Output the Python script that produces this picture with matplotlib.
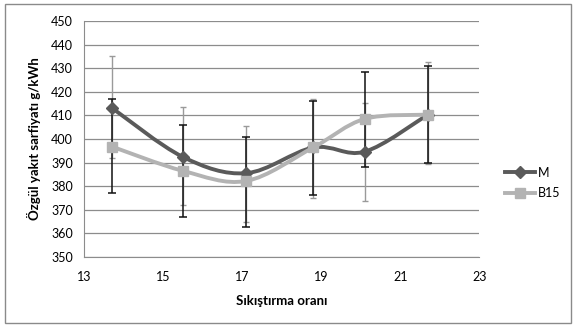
import numpy as np
import matplotlib
matplotlib.use('Agg')
import matplotlib.pyplot as plt
from matplotlib.path import Path
from matplotlib.patches import PathPatch, Rectangle
from matplotlib.lines import Line2D

plt.rcParams['font.family'] = ['Lato', 'DejaVu Sans']

# compression ratio values and specific fuel consumption
x_vals = [13.7, 15.5, 17.1, 18.8, 20.1, 21.7]
m_vals = [413.2, 392.4, 385.5, 396.4, 394.6, 410.3]
m_low = [377.0, 367.0, 362.8, 376.2, 388.0, 390.0]
m_high = [417.0, 406.0, 401.0, 416.0, 428.5, 431.0]
b15_vals = [396.8, 386.5, 382.2, 396.4, 408.5, 410.3]
b15_low = [392.0, 372.0, 365.0, 375.0, 373.7, 389.5]
b15_high = [435.0, 413.5, 405.5, 417.0, 415.3, 432.6]

yticks = [350, 360, 370, 380, 390, 400, 410, 420, 430, 440, 450]
xticks = [13, 15, 17, 19, 21, 23]

M_COLOR = '#5a5a5a'
B_COLOR = '#b3b3b3'


def smooth_path(xs, ys):
    # excel-like smoothed line: cubic bezier between points
    pts = np.column_stack([xs, ys])
    n = len(pts)
    verts = [pts[0]]
    codes = [Path.MOVETO]
    for i in range(n - 1):
        p0 = pts[i - 1] if i > 0 else pts[i]
        p1 = pts[i]
        p2 = pts[i + 1]
        p3 = pts[i + 2] if i + 2 < n else pts[i + 1]
        c1 = p1 + (p2 - p0) / 6.0
        c2 = p2 - (p3 - p1) / 6.0
        verts += [c1, c2, p2]
        codes += [Path.CURVE4] * 3
    return Path(verts, codes)


fig = plt.figure(figsize=(5.76, 3.27), dpi=100)
fig.patches.append(Rectangle((0.008, 0.012), 0.984, 0.976, transform=fig.transFigure,
                             fill=False, edgecolor='#8a8a8a', linewidth=1.0))
ax = fig.add_axes([0.146, 0.214, 0.686, 0.722])

ax.set_xlim(13, 23)
ax.set_ylim(350, 450)
ax.set_xticks(xticks)
ax.set_yticks(yticks)
ax.tick_params(axis='y', length=0, labelsize=9, pad=8)
ax.tick_params(axis='x', length=0, labelsize=9, pad=10)
ax.yaxis.grid(True, color='#8c8c8c', linewidth=0.9)
ax.set_axisbelow(True)
for s in ['top', 'right']:
    ax.spines[s].set_visible(False)
ax.spines['left'].set_color('#8c8c8c')
ax.spines['bottom'].set_color('#8c8c8c')

x = np.array(x_vals)
m = np.array(m_vals)
b = np.array(b15_vals)

ax.errorbar(x, b, yerr=[b - np.array(b15_low), np.array(b15_high) - b], fmt='none',
            ecolor='#9a9a9a', elinewidth=1.0, capsize=2.5, capthick=1.0, zorder=2)
ax.errorbar(x, m, yerr=[m - np.array(m_low), np.array(m_high) - m], fmt='none',
            ecolor='#111111', elinewidth=1.1, capsize=2.8, capthick=1.1, zorder=2.5)

ax.add_patch(PathPatch(smooth_path(x, m), fill=False, edgecolor=M_COLOR, linewidth=2.8,
                       capstyle='round', zorder=3))
ax.plot(x, m, linestyle='none', marker='D', markersize=6, color=M_COLOR, zorder=3.2)
ax.add_patch(PathPatch(smooth_path(x, b), fill=False, edgecolor=B_COLOR, linewidth=2.8,
                       capstyle='round', zorder=4))
ax.plot(x, b, linestyle='none', marker='s', markersize=7, color=B_COLOR, zorder=4.2)

ax.set_xlabel('Sıkıştırma oranı', fontsize=9.5, fontweight='bold', labelpad=9)
ax.set_ylabel('Özgül yakıt sarfiyatı g/kWh', fontsize=9.5, fontweight='bold', labelpad=7)

handles = [Line2D([], [], color=M_COLOR, linewidth=2.8, marker='D', markersize=6),
           Line2D([], [], color=B_COLOR, linewidth=2.8, marker='s', markersize=7)]
fig.legend(handles, ['M', 'B15'], loc='center left', bbox_to_anchor=(0.858, 0.44),
           frameon=False, fontsize=9, handlelength=2.4, handletextpad=0.2, labelspacing=0.7)

fig.savefig('out.png', dpi=100)
